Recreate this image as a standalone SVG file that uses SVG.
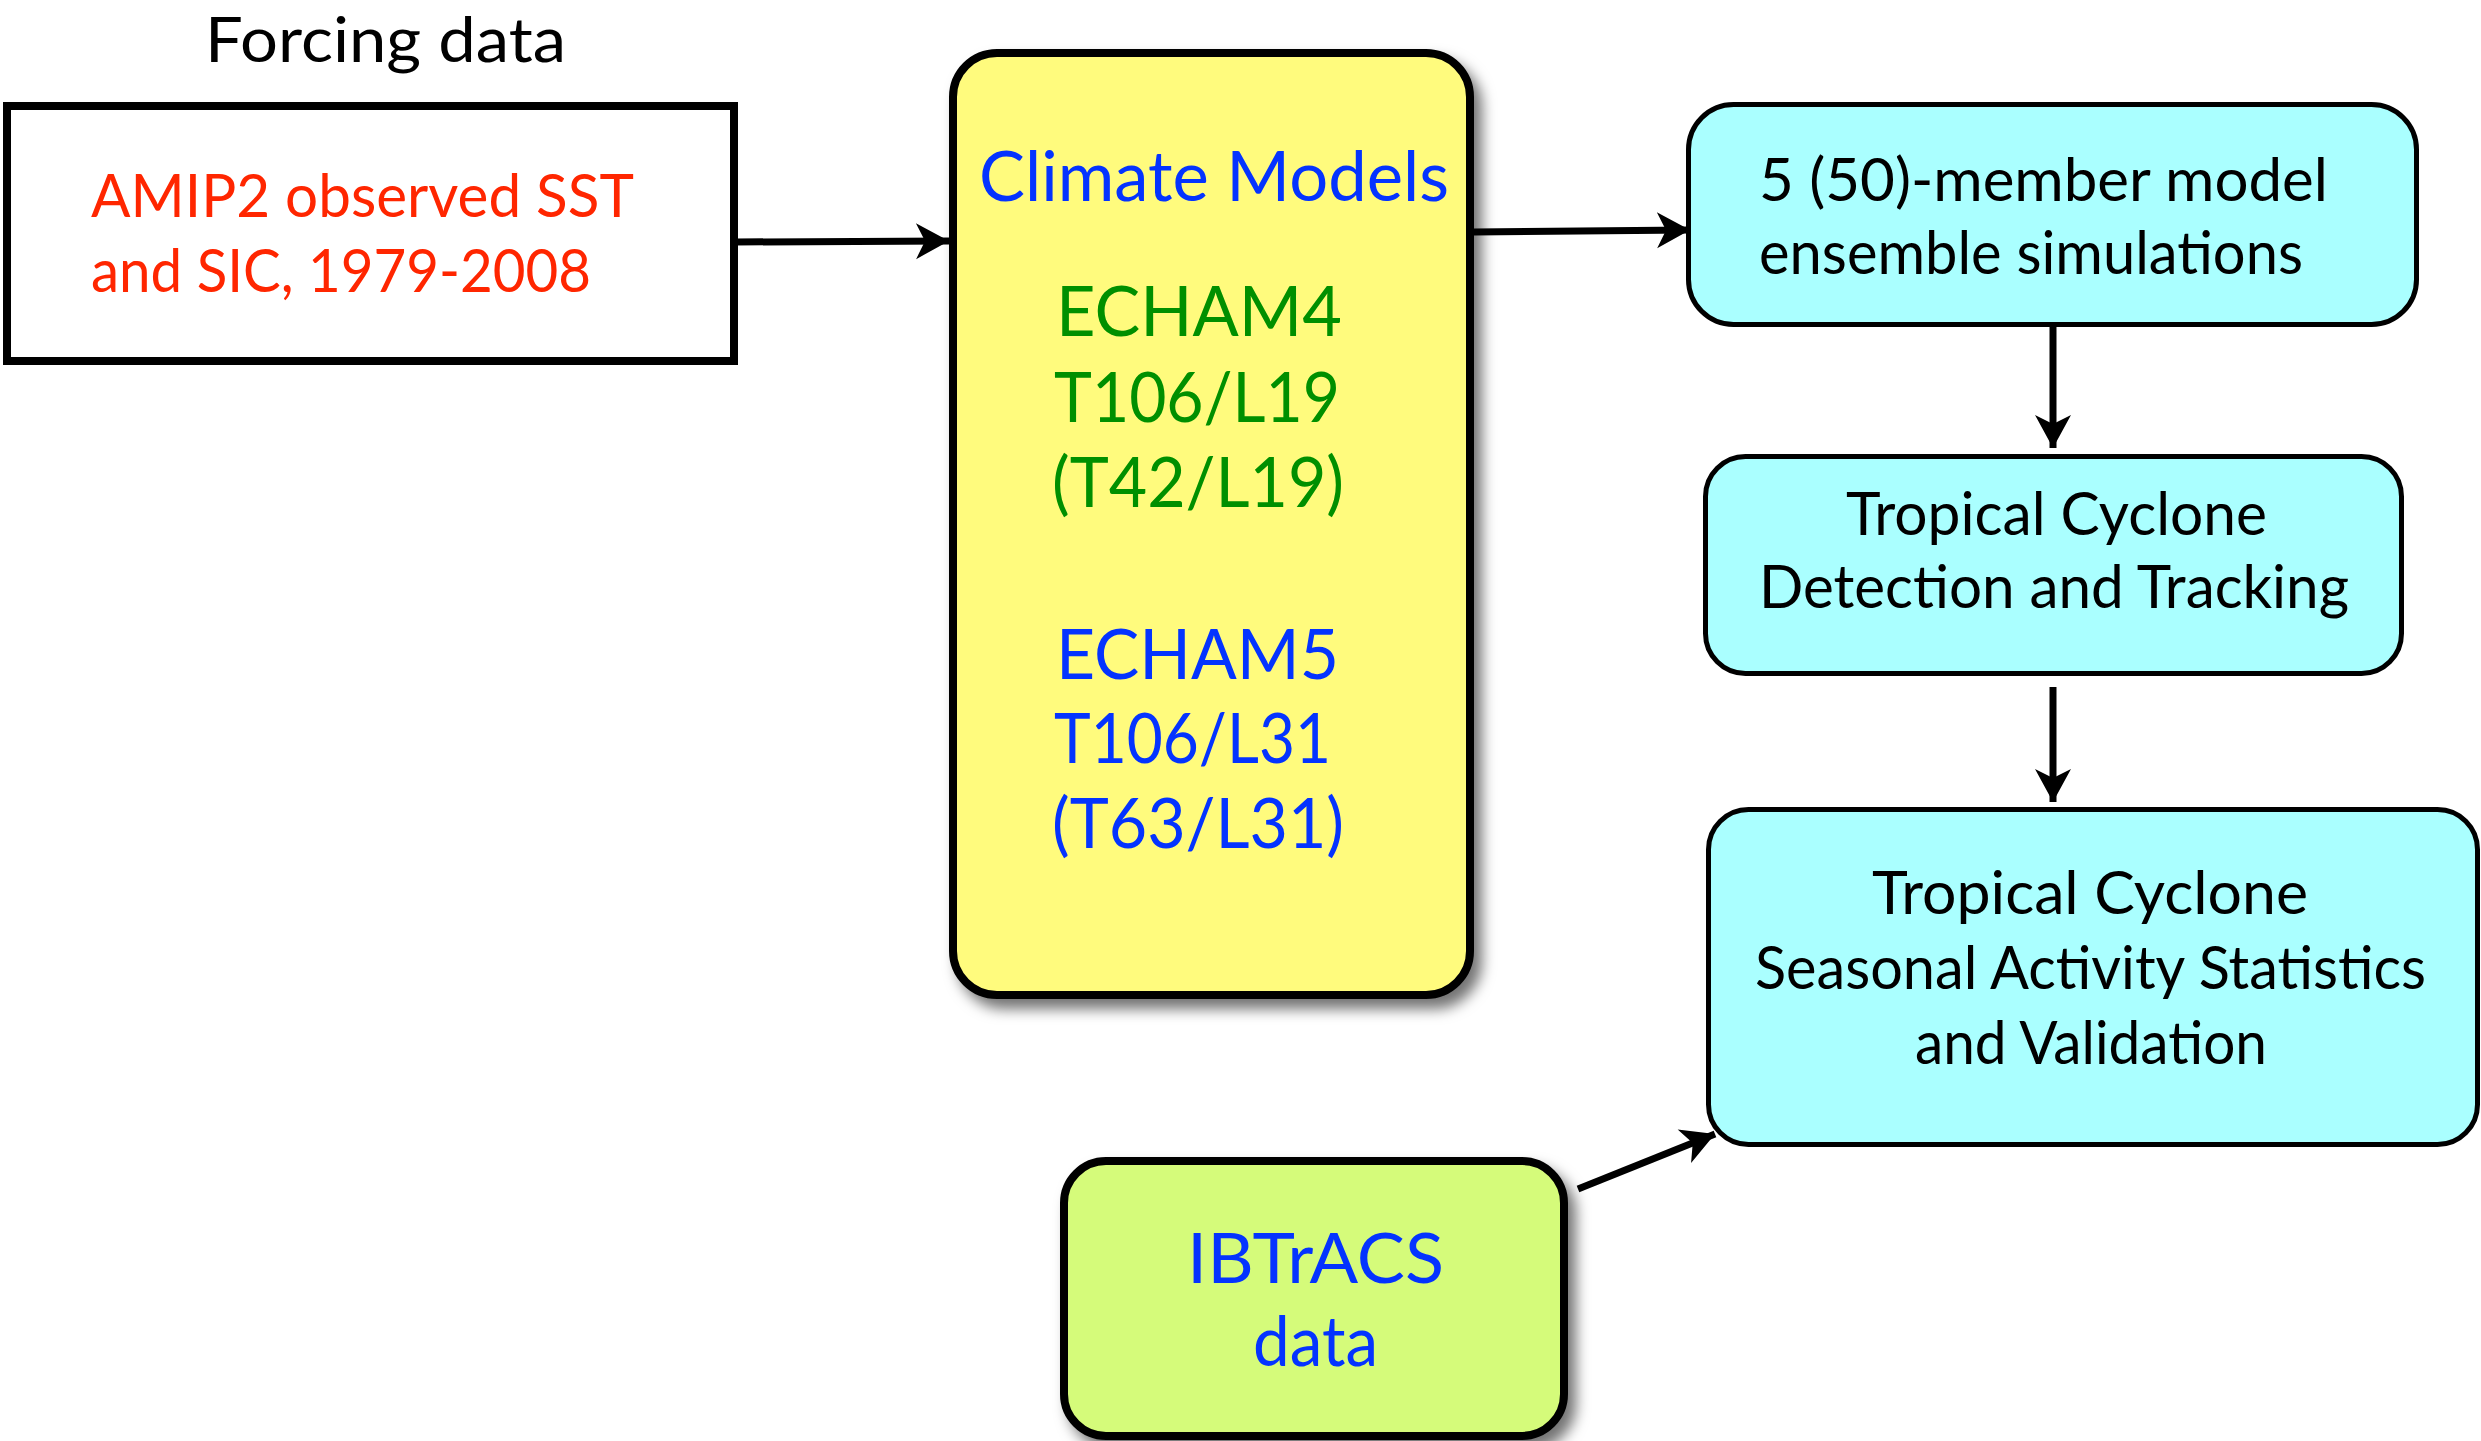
<svg xmlns="http://www.w3.org/2000/svg" width="2481" height="1441" viewBox="0 0 2481 1441">
<style>
text{font-family:"Lato","Open Sans","Liberation Sans",sans-serif;}
.blk{fill:#000;font-size:60px;}
.red{fill:#ff2600;font-size:60px;}
.blu{fill:#0433ff;font-size:70px;}
.grn{fill:#008f00;font-size:70px;}
.cyan{fill:#aaffff;stroke:#000;stroke-width:5;}
.conn{stroke:#000;stroke-width:7;fill:none;}
</style>
<defs>
<filter id="sh" x="-10%" y="-10%" width="130%" height="130%">
<feDropShadow dx="8" dy="10" stdDeviation="7" flood-color="#000" flood-opacity="0.55"/>
</filter>
<marker id="ah" markerUnits="userSpaceOnUse" markerWidth="40" markerHeight="40" viewBox="-34 -20 36 40" refX="0" refY="0" orient="auto">
<path d="M0,0 L-33,-18 L-24,0 L-33,18 Z" fill="#000"/>
</marker>
</defs>
<rect width="2481" height="1441" fill="#fff"/>

<g id="forcing-title">
<text x="205" y="62" class="blk" style="font-size:62px" textLength="361" lengthAdjust="spacingAndGlyphs">Forcing data</text>
</g>

<g id="forcing">
<rect x="7" y="106" width="727" height="255" fill="#fff" stroke="#000" stroke-width="8"/>
<text x="91" y="217" class="red" textLength="543" lengthAdjust="spacingAndGlyphs">AMIP2 observed SST</text>
<text x="91" y="292" class="red" textLength="500" lengthAdjust="spacingAndGlyphs">and SIC, 1979-2008</text>
</g>

<g id="climate-models">
<rect x="953" y="53" width="517" height="942" rx="44" fill="#fffb7d" stroke="#000" stroke-width="8" filter="url(#sh)"/>
<text x="979" y="201" class="blu" textLength="470" lengthAdjust="spacingAndGlyphs">Climate Models</text>
<text x="1056" y="336" class="grn" textLength="286" lengthAdjust="spacingAndGlyphs">ECHAM4</text>
<text x="1054" y="422" class="grn" textLength="286" lengthAdjust="spacingAndGlyphs">T106/L19</text>
<text x="1052" y="507" class="grn" textLength="292" lengthAdjust="spacingAndGlyphs">(T42/L19)</text>
<text x="1056" y="679" class="blu" textLength="283" lengthAdjust="spacingAndGlyphs">ECHAM5</text>
<text x="1054" y="763" class="blu" textLength="277" lengthAdjust="spacingAndGlyphs">T106/L31</text>
<text x="1052" y="848" class="blu" textLength="292" lengthAdjust="spacingAndGlyphs">(T63/L31)</text>
</g>

<g id="ensemble">
<rect x="1688.5" y="104.5" width="728" height="220" rx="45" class="cyan"/>
<text x="1759" y="201" class="blk" textLength="569" lengthAdjust="spacingAndGlyphs">5 (50)-member model</text>
<text x="1759" y="274" class="blk" textLength="544" lengthAdjust="spacingAndGlyphs">ensemble simulations</text>
</g>

<g id="detection">
<rect x="1705.5" y="456.5" width="696" height="217" rx="40" class="cyan"/>
<text x="1846" y="535" class="blk" textLength="421" lengthAdjust="spacingAndGlyphs">Tropical Cyclone</text>
<text x="1759" y="608" class="blk" textLength="590" lengthAdjust="spacingAndGlyphs">Detection and Tracking</text>
</g>

<g id="statistics">
<rect x="1708.5" y="809.5" width="769" height="335" rx="40" class="cyan"/>
<text x="1872" y="914" class="blk" textLength="436" lengthAdjust="spacingAndGlyphs">Tropical Cyclone</text>
<text x="1755" y="989" class="blk" textLength="671" lengthAdjust="spacingAndGlyphs">Seasonal Activity Statistics</text>
<text x="1915" y="1064" class="blk" textLength="352" lengthAdjust="spacingAndGlyphs">and Validation</text>
</g>

<g id="ibtracs">
<rect x="1064" y="1161" width="500" height="275" rx="42" fill="#d5fb7a" stroke="#000" stroke-width="8" filter="url(#sh)"/>
<text x="1187" y="1283" class="blu" textLength="257" lengthAdjust="spacingAndGlyphs">IBTrACS</text>
<text x="1253" y="1366" class="blu" textLength="125" lengthAdjust="spacingAndGlyphs">data</text>
</g>

<g id="connectors">
<line x1="736" y1="242" x2="949" y2="241" class="conn" marker-end="url(#ah)"/>
<line x1="1474" y1="232" x2="1690" y2="230" class="conn" marker-end="url(#ah)"/>
<line x1="2053" y1="327" x2="2053" y2="448" class="conn" marker-end="url(#ah)"/>
<line x1="2053" y1="687" x2="2053" y2="802" class="conn" marker-end="url(#ah)"/>
<line x1="1578" y1="1189" x2="1715" y2="1134" class="conn" marker-end="url(#ah)"/>
</g>
</svg>
